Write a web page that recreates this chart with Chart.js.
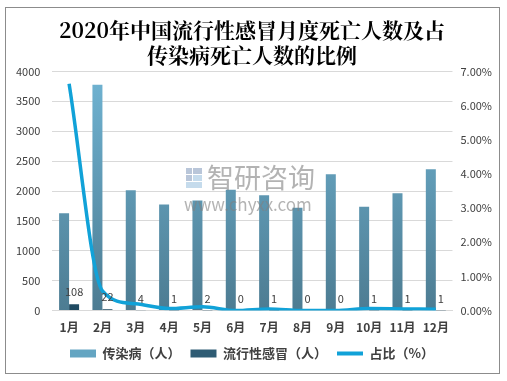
<!DOCTYPE html>
<html><head><meta charset="utf-8">
<script src="https://cdn.jsdelivr.net/npm/chart.js@4.4.0/dist/chart.umd.min.js"></script>
<style>
html,body{margin:0;padding:0;background:#fff;}
#wrap{position:absolute;left:0;top:0;width:507px;height:381px;}
#frame{position:absolute;left:5px;top:7px;width:495px;height:367px;border:1px solid #8c8c8c;box-sizing:border-box;pointer-events:none;}
canvas{display:block;}
</style></head>
<body>
<div id="wrap"><canvas id="c" width="507" height="381"></canvas><div id="frame"></div></div>
<script>
const months = ['1月','2月','3月','4月','5月','6月','7月','8月','9月','10月','11月','12月'];
const infectiousDeaths = [1626, 3777, 2011, 1776, 1840, 2020, 1927, 1720, 2280, 1737, 1961, 2364];
const fluDeaths = [108, 22, 4, 1, 2, 0, 1, 0, 0, 1, 1, 1];
const fluShare = [6.64, 0.58, 0.20, 0.06, 0.11, 0.00, 0.05, 0.00, 0.00, 0.06, 0.05, 0.04];
const leftTicks = [0, 500, 1000, 1500, 2000, 2500, 3000, 3500, 4000];
const rightTicks = [0, 1, 2, 3, 4, 5, 6, 7];
const seriesNames = ['传染病（人）', '流行性感冒（人）', '占比（%）'];
const titleLines = ['2020年中国流行性感冒月度死亡人数及占', '传染病死亡人数的比例'];

const FONT = "'Noto Sans CJK SC', 'Microsoft YaHei', sans-serif";

function vGrad(ctx, area, top, bottom) {
  const g = ctx.createLinearGradient(0, area.top, 0, area.bottom);
  g.addColorStop(0, top);
  g.addColorStop(1, bottom);
  return g;
}

const labelPlugin = {
  id: 'fluLabels',
  afterDatasetsDraw(chart) {
    const meta = chart.getDatasetMeta(1);
    const ctx = chart.ctx;
    ctx.save();
    ctx.font = '11px ' + FONT;
    ctx.fillStyle = '#404040';
    ctx.textAlign = 'center';
    ctx.textBaseline = 'middle';
    meta.data.forEach((el, i) => {
      ctx.fillText(String(fluDeaths[i]), el.x, el.y - 12);
    });
    ctx.restore();
  }
};

const watermarkPlugin = {
  id: 'wm',
  afterDraw(chart) {
    const ctx = chart.ctx;
    ctx.save();
    ctx.globalAlpha = 0.6;
    ctx.fillStyle = '#8aa0c0';
    ctx.fillRect(186, 168, 6, 6);
    ctx.fillRect(193, 168, 9, 6);
    ctx.fillRect(186, 175, 6, 6);
    ctx.fillStyle = '#9fc3e0';
    ctx.fillRect(193, 175, 9, 6);
    ctx.fillRect(186, 182, 16, 6);
    ctx.fillStyle = '#808080';
    ctx.font = '27px ' + FONT;
    ctx.textBaseline = 'middle';
    ctx.textAlign = 'left';
    ctx.fillText('智研咨询', 207, 178);
    ctx.font = '17px ' + FONT;
    ctx.fillText('www.chyxx.com', 184, 205);
    ctx.restore();
  }
};

new Chart(document.getElementById('c'), {
  data: {
    labels: months,
    datasets: [
      {
        type: 'bar', label: seriesNames[0], data: infectiousDeaths, yAxisID: 'y', order: 2,
        backgroundColor: (c) => { const a = c.chart.chartArea; return a ? vGrad(c.chart.ctx, a, '#70b4d3', '#4d7c92') : '#5f9bb7'; },
        borderWidth: 0,
        categoryPercentage: 0.6, barPercentage: 1.0
      },
      {
        type: 'bar', label: seriesNames[1], data: fluDeaths, yAxisID: 'y', order: 2,
        backgroundColor: (c) => { const a = c.chart.chartArea; return a ? vGrad(c.chart.ctx, a, '#4a7f9c', '#1f4a61') : '#2f5d75'; },
        borderWidth: 0,
        categoryPercentage: 0.6, barPercentage: 1.0
      },
      {
        type: 'line', label: seriesNames[2], data: fluShare, yAxisID: 'y2', order: 0,
        borderColor: '#11a2d8', backgroundColor: '#11a2d8', borderWidth: 3.5,
        pointRadius: 0, cubicInterpolationMode: 'monotone', fill: false
      }
    ]
  },
  options: {
    responsive: false, animation: false,
    layout: { padding: { left: 4, right: 7, top: 0, bottom: 11 } },
    plugins: {
      title: {
        display: true, text: titleLines, color: '#000',
        font: { family: "'Noto Serif CJK SC', 'Noto Sans CJK SC', serif", size: 21, weight: 'bold', lineHeight: 1.2 },
        padding: { top: 17, bottom: 4 }
      },
      legend: {
        position: 'bottom',
        labels: {
          color: '#404040', font: { family: FONT, size: 13, weight: 'bold' },
          usePointStyle: true, pointStyleWidth: 26, boxHeight: 8, padding: 10,
          generateLabels(chart) {
            const fills = ['#64a5c2', '#2f5c74', '#11a2d8'];
            return chart.data.datasets.map((d, i) => ({
              text: d.label, fillStyle: fills[i], strokeStyle: fills[i],
              lineWidth: i === 2 ? 4 : 0, pointStyle: i === 2 ? 'line' : 'rect',
              datasetIndex: i, hidden: false, fontColor: '#404040'
            }));
          }
        }
      },
      tooltip: { enabled: false }
    },
    scales: {
      x: {
        grid: { display: false }, border: { display: true, color: '#d9d9d9' },
        ticks: { color: '#404040', font: { family: FONT, size: 12, weight: 'bold' }, padding: 2,
          maxRotation: 0, minRotation: 0, autoSkip: false }
      },
      y: {
        position: 'left', min: 0, max: 4000,
        afterBuildTicks: (ax) => { ax.ticks = leftTicks.map(v => ({ value: v })); },
        grid: { color: '#d9d9d9', drawTicks: false }, border: { display: false },
        ticks: { color: '#404040', font: { family: FONT, size: 11 }, padding: 12,
          callback: (v) => String(v) }
      },
      y2: {
        position: 'right', min: 0, max: 7,
        afterBuildTicks: (ax) => { ax.ticks = rightTicks.map(v => ({ value: v })); },
        grid: { display: false, drawTicks: false }, border: { display: false },
        ticks: { color: '#404040', font: { family: FONT, size: 11 }, padding: 8,
          callback: (v) => Number(v).toFixed(2) + '%' }
      }
    }
  },
  plugins: [labelPlugin, watermarkPlugin]
});
</script>
</body></html>
